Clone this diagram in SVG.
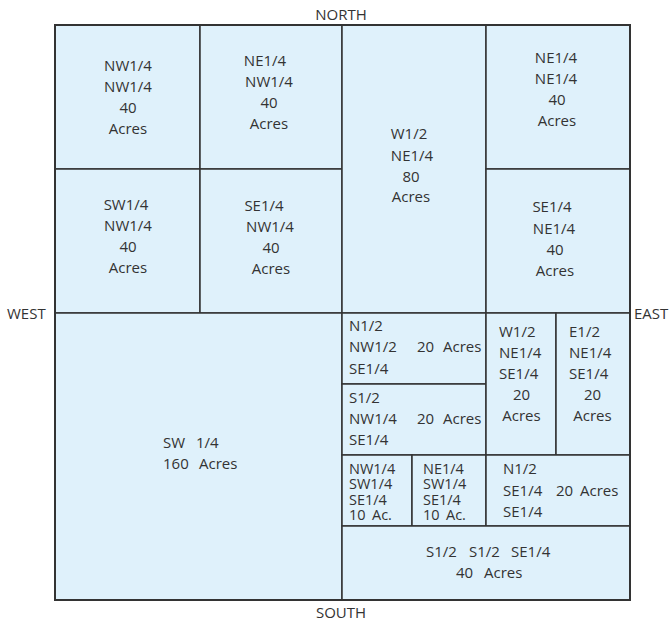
<svg xmlns="http://www.w3.org/2000/svg" width="670" height="621" viewBox="0 0 670 621">
<style>
.p{fill:#dff1fb;stroke:#333;stroke-width:1.5}
text{font-family:"Open Sans","Noto Sans","Liberation Sans",sans-serif;font-size:15px;fill:#333}
.c{text-anchor:middle}
.s{font-size:14.5px}
</style>
<rect width="670" height="621" fill="#fff"/>
<g id="nw-nw"><rect class="p" x="55" y="25" width="145" height="144"/>
<text class="c"><tspan x="128" y="71">NW1/4</tspan><tspan x="128" y="92">NW1/4</tspan><tspan x="128" y="113">40</tspan><tspan x="128" y="134">Acres</tspan></text></g>
<g id="ne-nw"><rect class="p" x="200" y="25" width="142" height="144"/>
<text class="c"><tspan x="265" y="66">NE1/4</tspan><tspan x="269" y="87">NW1/4</tspan><tspan x="269" y="108">40</tspan><tspan x="269" y="129">Acres</tspan></text></g>
<g id="sw-nw"><rect class="p" x="55" y="169" width="145" height="144"/>
<text class="c"><tspan x="126" y="210">SW1/4</tspan><tspan x="128" y="231">NW1/4</tspan><tspan x="128" y="252">40</tspan><tspan x="128" y="273">Acres</tspan></text></g>
<g id="se-nw"><rect class="p" x="200" y="169" width="142" height="144"/>
<text class="c"><tspan x="264" y="211">SE1/4</tspan><tspan x="270" y="232">NW1/4</tspan><tspan x="271" y="253">40</tspan><tspan x="271" y="274">Acres</tspan></text></g>
<g id="w-ne"><rect class="p" x="342" y="25" width="144" height="288"/>
<text class="c"><tspan x="409" y="139">W1/2</tspan><tspan x="412" y="161">NE1/4</tspan><tspan x="411" y="182">80</tspan><tspan x="411" y="202">Acres</tspan></text></g>
<g id="ne-ne"><rect class="p" x="486" y="25" width="144" height="144"/>
<text class="c"><tspan x="556" y="63">NE1/4</tspan><tspan x="556" y="84">NE1/4</tspan><tspan x="557" y="105">40</tspan><tspan x="557" y="126">Acres</tspan></text></g>
<g id="se-ne"><rect class="p" x="486" y="169" width="144" height="144"/>
<text class="c"><tspan x="552" y="212">SE1/4</tspan><tspan x="554" y="234">NE1/4</tspan><tspan x="555" y="255">40</tspan><tspan x="555" y="276">Acres</tspan></text></g>
<g id="sw"><rect class="p" x="55" y="313" width="287" height="287"/>
<text><tspan x="163" y="448">SW</tspan><tspan x="196" y="448">1/4</tspan><tspan x="163" y="469">160</tspan><tspan x="199" y="469">Acres</tspan></text></g>
<g id="n-nw-se"><rect class="p" x="342" y="313" width="144" height="71"/>
<text><tspan x="349" y="331">N1/2</tspan><tspan x="349" y="352">NW1/2</tspan><tspan x="417" y="352">20</tspan><tspan x="443" y="352">Acres</tspan><tspan x="349" y="374">SE1/4</tspan></text></g>
<g id="s-nw-se"><rect class="p" x="342" y="384" width="144" height="71"/>
<text><tspan x="349" y="403">S1/2</tspan><tspan x="349" y="424">NW1/4</tspan><tspan x="417" y="424">20</tspan><tspan x="443" y="424">Acres</tspan><tspan x="349" y="445">SE1/4</tspan></text></g>
<g id="w-ne-se"><rect class="p" x="486" y="313" width="70" height="142"/>
<text><tspan x="499" y="337">W1/2</tspan><tspan x="499" y="358">NE1/4</tspan><tspan x="499" y="379">SE1/4</tspan><tspan x="521.5" y="400" class="c">20</tspan><tspan x="521.5" y="421" class="c">Acres</tspan></text></g>
<g id="e-ne-se"><rect class="p" x="556" y="313" width="74" height="142"/>
<text><tspan x="569" y="337">E1/2</tspan><tspan x="569" y="358">NE1/4</tspan><tspan x="569" y="379">SE1/4</tspan><tspan x="592.5" y="400" class="c">20</tspan><tspan x="592.5" y="421" class="c">Acres</tspan></text></g>
<g id="nw-sw-se"><rect class="p" x="342" y="455" width="70" height="71"/>
<text class="s"><tspan x="349" y="474">NW1/4</tspan><tspan x="349" y="489">SW1/4</tspan><tspan x="349" y="504.5">SE1/4</tspan><tspan x="349" y="520">10</tspan><tspan x="372" y="520">Ac.</tspan></text></g>
<g id="ne-sw-se"><rect class="p" x="412" y="455" width="74" height="71"/>
<text class="s"><tspan x="423" y="474">NE1/4</tspan><tspan x="423" y="489">SW1/4</tspan><tspan x="423" y="504.5">SE1/4</tspan><tspan x="423" y="520">10</tspan><tspan x="446" y="520">Ac.</tspan></text></g>
<g id="n-se-se"><rect class="p" x="486" y="455" width="144" height="71"/>
<text><tspan x="503" y="474">N1/2</tspan><tspan x="503" y="496">SE1/4</tspan><tspan x="556" y="496">20</tspan><tspan x="580" y="496">Acres</tspan><tspan x="503" y="517">SE1/4</tspan></text></g>
<g id="s-s-se"><rect class="p" x="342" y="526" width="288" height="74"/>
<text><tspan x="426" y="557">S1/2</tspan><tspan x="469" y="557">S1/2</tspan><tspan x="511" y="557">SE1/4</tspan><tspan x="456" y="578">40</tspan><tspan x="484" y="578">Acres</tspan></text></g>
<g id="connectors"><rect x="55" y="25" width="575" height="575" fill="none" stroke="#333" stroke-width="2"/></g>
<g id="labels">
<text class="c" x="341" y="19.5">NORTH</text>
<text class="c" x="341" y="618">SOUTH</text>
<text x="7" y="319">WEST</text>
<text x="634" y="319">EAST</text>
</g>
</svg>
